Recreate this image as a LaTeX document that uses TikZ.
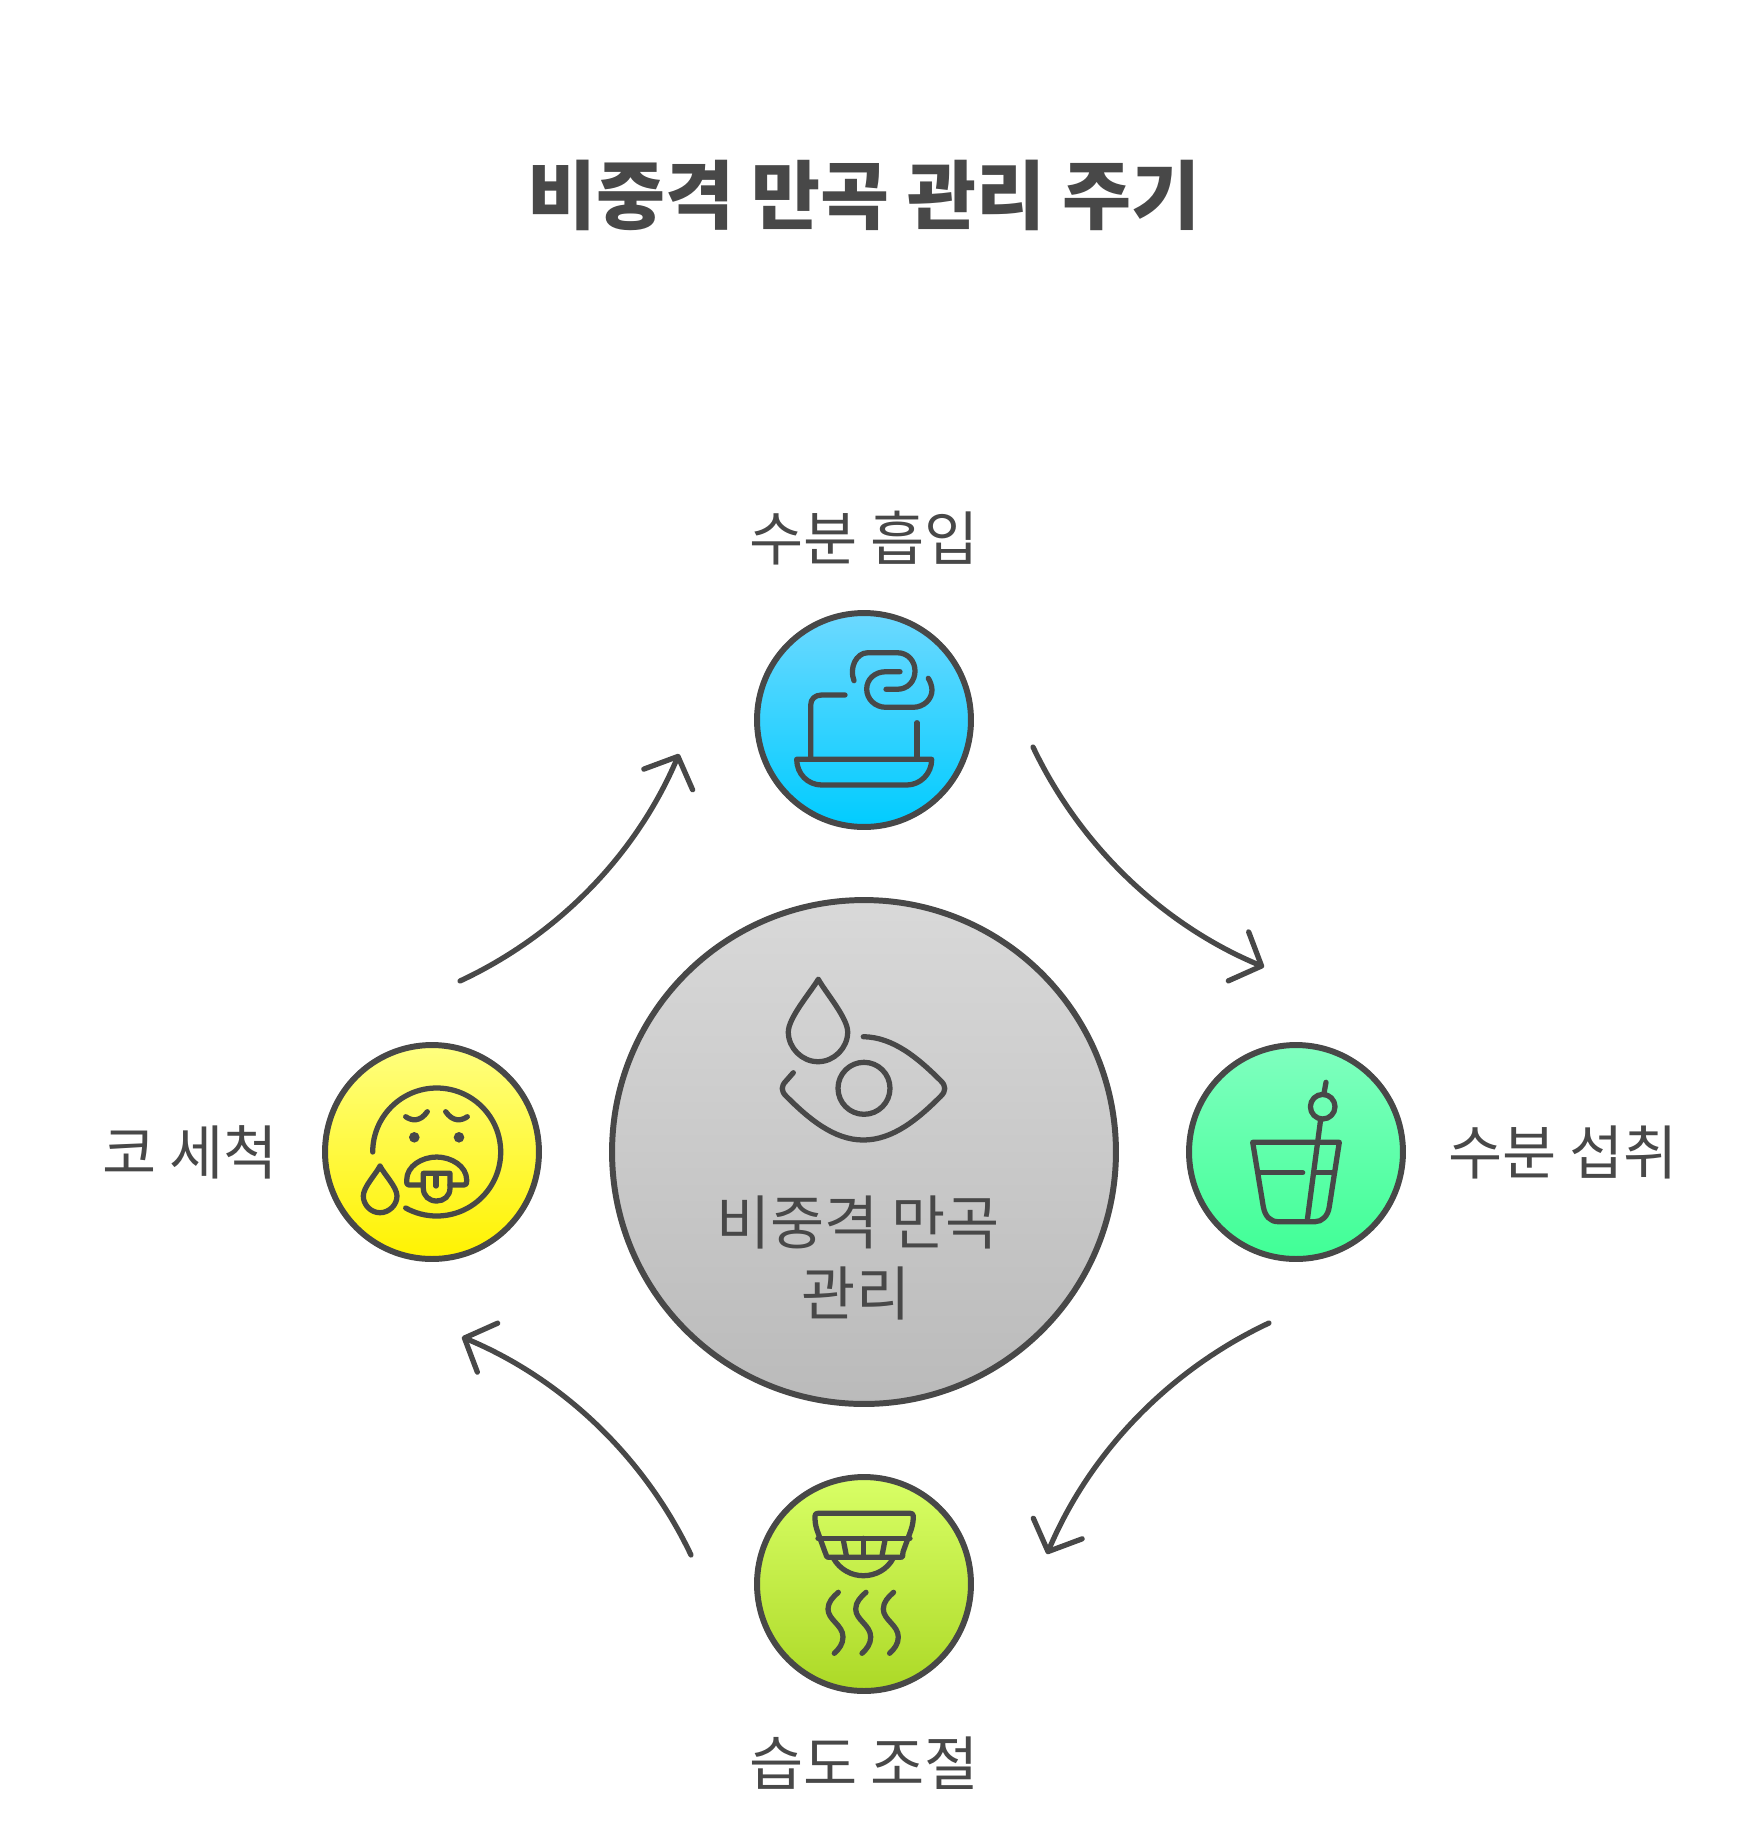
\documentclass[tikz,border=0pt]{standalone}
\usepackage{fontspec}
\setmainfont{Noto Sans CJK KR}
\usetikzlibrary{arrows.meta}
\definecolor{inkgray}{HTML}{484848}
\tikzset{
	stagecircle/.style={circle, draw=inkgray, line width=3.4pt, minimum size=4.28cm, inner sep=0pt},
	stagelabel/.style={text=inkgray, font=\fontsize{33.5pt}{40pt}\selectfont, inner sep=0pt},
	iconline/.style={draw=inkgray, line width=3pt, line cap=round, line join=round},
	cyclearrow/.style={draw=inkgray, line width=3pt, line cap=round, -{Straight Barb[length=0.5cm, width=1.06cm, round]}}
}

\begin{document}
\begin{tikzpicture}[x=0.02cm, y=-0.02cm]
		\useasboundingbox (0,0) rectangle (1764,1830);

		% circles
		\node[stagecircle, minimum size=10.08cm, top color=black!15, bottom color=black!27] (hub) at (864,1152) {};
		\node[stagecircle, top color=cyan!50!white!85!blue, bottom color=cyan!80!blue] (inhale) at (864,720) {};
		\node[stagecircle, top color=green!50!cyan!50!white, bottom color=green!55!cyan!75!white] (intake) at (1296,1152) {};
		\node[stagecircle, top color=lime!60!white, bottom color=lime!70!gray] (humidity) at (864,1584) {};
		\node[stagecircle, top color=yellow!50!white, bottom color=yellow!90!orange] (rinse) at (432,1152) {};

		% texts
		\node[text=inkgray, inner sep=0pt, font=\fontsize{42.7pt}{50pt}\selectfont\bfseries] (title) at (864,195) {비중격 만곡 관리 주기};
		\node[stagelabel] (inhalelabel) at (864,538) {수분 흡입};
		\node[stagelabel] (intakelabel) at (1563,1152) {수분 섭취};
		\node[stagelabel] (humiditylabel) at (864,1763) {습도 조절};
		\node[stagelabel, anchor=east] (rinselabel) at (278,1152) {코 세척};
		\node[stagelabel] (hublabela) at (858,1222) {비중격 만곡};
		\node[stagelabel] (hublabelb) at (856,1293) {관리};

		% arrows
		\coordinate (a1) at (1033,747);
		\coordinate (a2) at (1264,967);
		\coordinate (b1) at (1269,1323);
		\coordinate (b2) at (1047,1554);
		\coordinate (c1) at (691,1555);
		\coordinate (c2) at (462,1337);
		\coordinate (d1) at (460,981);
		\coordinate (d2) at (679,754);
		\draw[cyclearrow] (a1) to[bend right=21, looseness=.88] (a2);
		\draw[cyclearrow] (b1) to[bend right=21, looseness=.88] (b2);
		\draw[cyclearrow] (c1) to[bend right=21, looseness=.88] (c2);
		\draw[cyclearrow] (d1) to[bend right=21, looseness=.88] (d2);

		% hub icon
		\draw[iconline] (818.3,979.3) .. controls (810,993) and (788.3,1018) .. (788.3,1032) .. controls (788.3,1048) and (802,1061.7) .. (818,1061.7) .. controls (834,1061.7) and (847.7,1048) .. (847.7,1032) .. controls (847.7,1018) and (826,993) .. (818.3,979.3);
		\draw[iconline] (864,1088.3) circle (26);
		\draw[iconline] (863.3,1036.7) .. controls (893,1037) and (918,1058) .. (941,1081) .. controls (946,1086) and (946,1091) .. (941,1096) .. controls (918,1119) and (893,1140) .. (863.3,1140) .. controls (834,1140) and (809,1119) .. (786,1096) .. controls (781,1091) and (781,1086) .. (786,1081) -- (793.3,1072.7);

		% inhale icon
		\draw[iconline] (796.7,759.3) -- (931.7,759.3) .. controls (931.7,774) and (920,785) .. (906.7,785) -- (821.7,785) .. controls (808,785) and (796.7,774) .. (796.7,759.3);
		\draw[iconline] (810.7,759.3) -- (810.7,705) .. controls (810.7,699) and (815,695) .. (821.7,695) -- (845,695);
		\draw[iconline] (917,759.3) -- (917,722.7);
		\draw[iconline] (854,680.7) .. controls (849,668) and (856,652.7) .. (868,652.7) -- (897,652.7) .. controls (908,652.7) and (915,661) .. (915,671) .. controls (915,681) and (908,689.3) .. (897,689.3) -- (886,689.3);
		\draw[iconline] (900,671.7) -- (886,671.7) .. controls (875,671.7) and (866.7,679) .. (866.7,689) .. controls (866.7,699) and (875,707.3) .. (886,707.3) -- (913,707.3) .. controls (924,707.3) and (932,699) .. (932,690) .. controls (932,686) and (930,681) .. (928.3,678.3);

		% intake icon
		\draw[iconline] (1252.7,1142.3) -- (1339.3,1142.3) -- (1329.3,1206.7) .. controls (1328,1216) and (1322,1221.7) .. (1315,1221.7) -- (1278.3,1221.7) .. controls (1270,1221.7) and (1265,1216) .. (1263.3,1206.7) -- cycle;
		\draw[iconline] (1258.3,1172.7) -- (1302.7,1172.7);
		\draw[iconline] (1316.7,1172.7) -- (1333.3,1172.7);
		\draw[iconline] (1307.3,1220) -- (1320.7,1119);
		\draw[iconline] (1322.7,1106.7) circle (12.3);
		\draw[iconline] (1324,1093.3) -- (1326,1082.3);

		% humidity icon
		\draw[iconline] (828,1557.3) -- (900,1557.3) .. controls (905,1557.3) and (901,1555) .. (903,1552) -- (911,1530) .. controls (913,1524) and (913.3,1520) .. (913.3,1516) .. controls (913.3,1514) and (912,1513.3) .. (910,1513.3) -- (818,1513.3) .. controls (816,1513.3) and (815,1514) .. (815,1516) .. controls (815,1520) and (815,1524) .. (817,1530) -- (825,1552) .. controls (827,1556) and (826,1557.3) .. (828,1557.3);
		\draw[iconline] (818,1538.3) -- (910,1538.3);
		\draw[iconline] (843.3,1540) -- (846.7,1557.3);
		\draw[iconline] (863.3,1538.3) -- (863.3,1557.3);
		\draw[iconline] (885,1540) -- (881.7,1557.3);
		\draw[iconline] (833.3,1558) .. controls (840,1570) and (852,1575.7) .. (863.3,1575.7) .. controls (875,1575.7) and (887,1570) .. (893.3,1558);
		\foreach \dx in {0,27.7,55.3}
			\draw[iconline, xshift=\dx*0.02cm] (838.3,1592.3) .. controls (833,1597) and (828,1602) .. (828,1609) .. controls (828,1620) and (843,1625) .. (843,1637) .. controls (843,1644) and (839,1649) .. (834.3,1653.3);

		% rinse icon
		\draw[iconline] (372.7,1152) arc[start angle=180, end angle=479, radius=64];
		\draw[iconline] (405.7,1116.7) .. controls (412,1121) and (420,1122) .. (427.3,1111.7);
		\draw[iconline] (445.7,1111.7) .. controls (453,1122) and (461,1121) .. (467.3,1116.7);
		\fill[inkgray] (414.3,1137.3) circle (5.3);
		\fill[inkgray] (459,1137.3) circle (5.3);
		\draw[iconline] (423,1185) -- (409,1185) .. controls (407,1185) and (406.7,1184) .. (406.7,1180) .. controls (406.7,1166) and (422,1157) .. (436.7,1157) .. controls (451,1157) and (466.7,1166) .. (466.7,1180) .. controls (466.7,1184) and (466,1185) .. (464,1185) -- (450,1185);
		\draw[iconline] (423.3,1173.3) -- (450,1173.3) -- (450,1188) .. controls (450,1196) and (444,1201) .. (436.7,1201) .. controls (429,1201) and (423.3,1196) .. (423.3,1188) -- cycle;
		\draw[iconline] (436,1175) -- (436,1186);
		\draw[iconline] (380,1166) .. controls (376,1174) and (363.3,1187) .. (363.3,1196) .. controls (363.3,1205) and (371,1212.7) .. (380,1212.7) .. controls (389,1212.7) and (397,1205) .. (397,1196) .. controls (397,1187) and (384,1174) .. (380,1166);
\end{tikzpicture}
\end{document}
